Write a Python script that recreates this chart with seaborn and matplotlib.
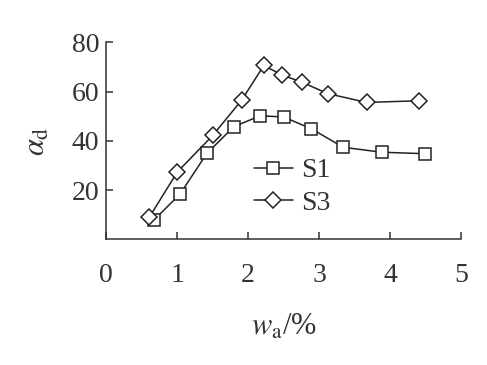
import matplotlib
matplotlib.use("Agg")
import matplotlib.pyplot as plt
import seaborn as sns
import pandas as pd

s1_x = [0.67, 1.04, 1.42, 1.80, 2.17, 2.50, 2.89, 3.34, 3.88, 4.49]
s1_y = [7.8, 18.4, 35.0, 45.8, 50.2, 49.7, 44.9, 37.4, 35.4, 34.8]
s3_x = [0.61, 1.00, 1.50, 1.91, 2.22, 2.48, 2.76, 3.12, 3.67, 4.40]
s3_y = [9.1, 27.3, 42.2, 56.6, 70.6, 66.7, 63.8, 59.2, 55.6, 56.3]
x_ticks = [0, 1, 2, 3, 4, 5]
y_ticks = [20, 40, 60, 80]

sns.set_theme(style="ticks")
plt.rcParams['font.family'] = ['Liberation Serif', 'DejaVu Serif']
plt.rcParams['mathtext.fontset'] = 'stix'

df1 = pd.DataFrame({'x': s1_x, 'y': s1_y})
df3 = pd.DataFrame({'x': s3_x, 'y': s3_y})

fig = plt.figure(figsize=(4.87, 3.65), dpi=100)
ax = fig.add_axes([0.218, 0.344, 0.729, 0.540])
col = '#222222'
sns.lineplot(data=df1, x='x', y='y', ax=ax, color=col, marker='s', markersize=8.5,
             markerfacecolor='white', markeredgecolor=col, markeredgewidth=1.1,
             linewidth=1.1, label='S1', sort=False)
sns.lineplot(data=df3, x='x', y='y', ax=ax, color=col, marker='D', markersize=8,
             markerfacecolor='white', markeredgecolor=col, markeredgewidth=1.1,
             linewidth=1.1, label='S3', sort=False)

ax.set_xlim(0, 5)
ax.set_ylim(0, 80)
ax.set_xticks(x_ticks)
ax.set_yticks(y_ticks)
sns.despine(ax=ax)
for s in ['left', 'bottom']:
    ax.spines[s].set_color('#333333')
    ax.spines[s].set_linewidth(1.1)
ax.tick_params(axis='both', direction='in', length=5, width=1.1, color='#333333',
               labelsize=20, labelcolor='#333333')
ax.tick_params(axis='x', pad=17)
ax.tick_params(axis='y', pad=5)
ax.set_xlabel(r'$w_{\rm a}$/%', fontsize=22, color='#333333', labelpad=18)
ax.set_ylabel(r'$\alpha_{\rm d}$', fontsize=22, color='#333333', labelpad=14)

leg = ax.legend(loc='upper left', bbox_to_anchor=(0.385, 0.47), frameon=False,
                fontsize=20, handlelength=1.4, handletextpad=0.3,
                labelspacing=0.25, borderaxespad=0)
for t in leg.get_texts():
    t.set_color('#333333')

fig.savefig('out.png', dpi=100)
